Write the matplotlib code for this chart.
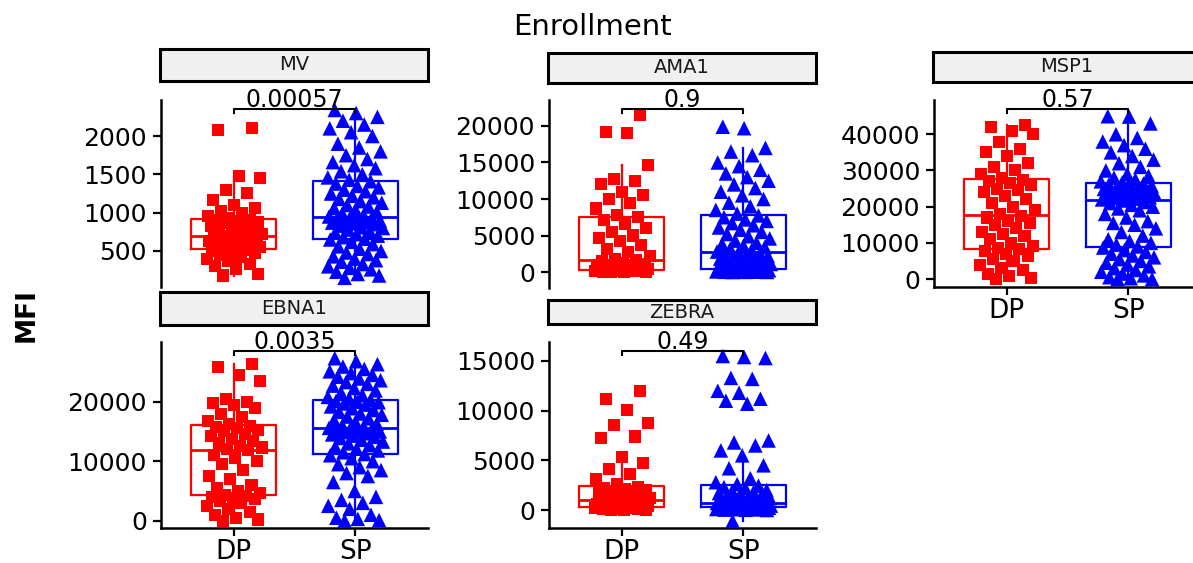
import matplotlib
matplotlib.use("Agg")
import matplotlib.pyplot as plt
from matplotlib.patches import Rectangle

plt.rcParams['font.family'] = ['DejaVu Sans']

# ---------------- data ----------------
groups = ["DP", "SP"]
panel_names = ["MV", "AMA1", "MSP1", "EBNA1", "ZEBRA"]
p_values = ["0.00057", "0.9", "0.57", "0.0035", "0.49"]
y_label = "MFI"
title = "Enrollment"

mv_dp = [180, 200, 260, 300, 330, 370, 400, 420, 450, 470, 490, 505, 515,
         530, 550, 560, 580, 600, 610, 630, 640, 650, 660, 670, 680, 690,
         700, 720, 740, 760, 780, 800, 820, 840, 860, 880, 890, 900, 910,
         930, 960, 990, 1020, 1060, 1100, 1160, 1260, 1300, 1450, 1480, 2080, 2100]
mv_sp = [150, 180, 200, 230, 260, 280, 300, 330, 360, 380, 400, 430, 460, 480, 500, 530, 560, 590, 620, 650,
         660, 680, 700, 720, 740, 760, 780, 800, 810, 830, 850, 860, 870, 880, 890, 900, 910, 920, 930, 945,
         950, 970, 990, 1010, 1040, 1060, 1080, 1100, 1130, 1150, 1180, 1200, 1220, 1250, 1280, 1300, 1330, 1350, 1380, 1410,
         1430, 1460, 1500, 1540, 1580, 1620, 1660, 1700, 1750, 1800, 1850, 1900, 2000, 2050, 2100, 2150, 2200, 2250, 2300, 2340]

ama1_dp = [0, 20, 40, 60, 80, 100, 130, 160, 190, 220, 250, 280, 300,
           350, 420, 500, 580, 660, 740, 820, 920, 1020, 1150, 1300, 1450, 1600,
           1800, 2200, 2700, 3200, 3700, 4200, 4700, 5000, 5500, 6000, 6600, 7100, 7500,
           7800, 8700, 9500, 10000, 10500, 11000, 12000, 12500, 12800, 14700, 19000, 19200, 21500]
ama1_sp = [0, 10, 20, 30, 40, 60, 80, 100, 120, 140, 160, 180, 200, 220, 240, 260, 280, 300, 320, 340,
           400, 500, 600, 700, 800, 900, 1000, 1100, 1200, 1350, 1500, 1650, 1800, 1950, 2100, 2200, 2300, 2400, 2500, 2650,
           2800, 3000, 3200, 3400, 3600, 3800, 4000, 4300, 4600, 4900, 5200, 5500, 5800, 6100, 6400, 6700, 7000, 7200, 7500, 7750,
           8000, 8500, 9000, 9500, 10000, 10500, 11000, 11500, 12000, 12500, 13000, 13500, 14000, 14500, 15000, 16000, 16500, 17000, 19700, 19900]

msp1_dp = [0, 300, 800, 1500, 2500, 3000, 4000, 5000, 5500, 6500, 7000, 7800, 8200,
           8500, 9000, 10000, 11000, 12000, 12500, 13000, 14000, 15000, 15500, 16000, 17000, 17500,
           18000, 19000, 20000, 21000, 22000, 23000, 24000, 24500, 25000, 26000, 26500, 27000, 27500,
           28000, 29000, 30000, 31000, 32000, 34000, 35000, 36000, 38000, 40000, 41000, 42000, 42500]
msp1_sp = [0, 0, 200, 500, 1000, 1500, 2000, 2500, 3000, 3500, 4000, 4500, 5000, 5500, 6000, 6500, 7000, 7500, 8000, 8700,
           9000, 9500, 10000, 10500, 11000, 12000, 13000, 14000, 15000, 15500, 16000, 17000, 18000, 19000, 19500, 20000, 20500, 21000, 21300, 21700,
           22000, 22200, 22400, 22600, 22800, 23000, 23200, 23400, 23600, 23800, 24000, 24300, 24600, 24900, 25200, 25500, 25800, 26000, 26200, 26400,
           26700, 27000, 27500, 28000, 28500, 29000, 30000, 31000, 32000, 33000, 34000, 35000, 36000, 37000, 38000, 39000, 40000, 43000, 44900, 45000]

ebna1_dp = [0, 200, 500, 900, 1500, 2000, 2500, 3000, 3300, 3600, 3800, 4000, 4150,
            4300, 4600, 5000, 5500, 6000, 7000, 7500, 8500, 9500, 10000, 10500, 11000, 11800,
            12000, 12300, 12600, 13000, 13400, 13800, 14200, 14600, 15000, 15300, 15600, 15800, 15950,
            16300, 16800, 17500, 18000, 19000, 19500, 19800, 20000, 20500, 23500, 24500, 25800, 26400]
ebna1_sp = [0, 100, 300, 500, 1000, 2000, 2500, 3000, 3500, 4000, 5000, 6500, 7500, 8000, 8500, 9000, 9500, 10000, 10500, 11000,
            11200, 11500, 11800, 12100, 12400, 12700, 13000, 13300, 13600, 13900, 14100, 14300, 14500, 14700, 14900, 15000, 15100, 15200, 15300, 15500,
            15600, 15800, 16000, 16300, 16600, 16900, 17200, 17500, 17800, 18000, 18300, 18600, 18900, 19200, 19500, 19700, 19900, 20000, 20100, 20250,
            20500, 20800, 21100, 21500, 21900, 22300, 22700, 23000, 23300, 23600, 23900, 24200, 24500, 24800, 25100, 25500, 25900, 26300, 26800, 27300]

zebra_dp = [0, 20, 50, 80, 110, 140, 170, 200, 230, 250, 270, 290, 310,
            340, 380, 420, 460, 510, 570, 630, 690, 750, 810, 870, 930, 990,
            1100, 1200, 1300, 1400, 1500, 1600, 1700, 1800, 1900, 2000, 2100, 2200, 2330,
            2600, 3100, 3600, 4100, 4700, 5300, 7200, 7400, 8600, 8800, 10100, 11200, 12000]
zebra_sp = [-1100, 0, 20, 40, 60, 80, 100, 120, 140, 160, 180, 200, 210, 220, 230, 240, 250, 260, 270, 280,
            300, 320, 340, 360, 380, 400, 420, 440, 460, 480, 500, 520, 540, 560, 580, 600, 620, 640, 650, 660,
            700, 750, 800, 850, 900, 950, 1000, 1100, 1200, 1300, 1400, 1500, 1600, 1700, 1800, 1900, 2000, 2200, 2300, 2450,
            2600, 2800, 3200, 4200, 4500, 5500, 6000, 6500, 6800, 7000, 10700, 11000, 11200, 11800, 12000, 13200, 13300, 15300, 15400, 15500]

mv_ticks = [500, 1000, 1500, 2000]
ama1_ticks = [0, 5000, 10000, 15000, 20000]
msp1_ticks = [0, 10000, 20000, 30000, 40000]
ebna1_ticks = [0, 10000, 20000]
zebra_ticks = [0, 5000, 10000, 15000]

# ---------------- layout (pixels) ----------------
W, H = 1193, 563
fig = plt.figure(figsize=(W / 100, H / 100), dpi=100)


def fbox(x0, y0, x1, y1):
    return [x0 / W, 1 - y1 / H, (x1 - x0) / W, (y1 - y0) / H]


panels = [
    dict(name=panel_names[0], dp=mv_dp, sp=mv_sp, p=p_values[0], ticks=mv_ticks,
         ylim=(30, 2470), ax=(161, 100, 428, 287), strip=(160, 49, 428, 81), xaxis=False),
    dict(name=panel_names[1], dp=ama1_dp, sp=ama1_sp, p=p_values[1], ticks=ama1_ticks,
         ylim=(-2190, 23560), ax=(549, 100, 816, 288), strip=(548, 53, 816, 83), xaxis=False),
    dict(name=panel_names[2], dp=msp1_dp, sp=msp1_sp, p=p_values[2], ticks=msp1_ticks,
         ylim=(-2210, 49480), ax=(934, 100, 1201, 287), strip=(933, 52, 1201, 82), xaxis=True),
    dict(name=panel_names[3], dp=ebna1_dp, sp=ebna1_sp, p=p_values[3], ticks=ebna1_ticks,
         ylim=(-1230, 30030), ax=(161, 342, 428, 528), strip=(160, 292, 428, 325), xaxis=True),
    dict(name=panel_names[4], dp=zebra_dp, sp=zebra_sp, p=p_values[4], ticks=zebra_ticks,
         ylim=(-1810, 16910), ax=(549, 342, 816, 528), strip=(548, 300, 816, 324), xaxis=True),
]

colors = ["#FF0000", "#0000FF"]
markers = ["s", "^"]
msizes = [75, 110]


def jitter(n):
    return [((i * 0.6180339887 + 0.31) % 1.0 - 0.5) * 0.46 for i in range(n)]


for p in panels:
    ax = fig.add_axes(fbox(*p["ax"]))
    for gi, vals in enumerate([p["dp"], p["sp"]]):
        pos = gi + 1
        c = colors[gi]
        ax.boxplot([vals], positions=[pos], widths=0.7, showfliers=False,
                   boxprops=dict(color=c, linewidth=1.6),
                   medianprops=dict(color=c, linewidth=2.0),
                   whiskerprops=dict(color=c, linewidth=1.6),
                   capprops=dict(linewidth=0), zorder=1)
        js = jitter(len(vals))
        ax.scatter([pos + j for j in js], vals, marker=markers[gi], s=msizes[gi],
                   color=c, edgecolors='none', zorder=3, clip_on=False)
    ax.set_xlim(0.4, 2.6)
    ax.set_ylim(*p["ylim"])
    ax.set_yticks(p["ticks"])
    ax.set_yticklabels([str(t) for t in p["ticks"]])
    for s in ["top", "right"]:
        ax.spines[s].set_visible(False)
    ax.spines["left"].set_linewidth(1.8)
    ax.spines["bottom"].set_linewidth(1.8)
    ax.tick_params(axis="y", labelsize=18, length=6, width=1.6, pad=4, colors="black")
    ax.set_xticks([1, 2])
    if p["xaxis"]:
        ax.set_xticklabels(groups)
        ax.tick_params(axis="x", labelsize=19, length=6, width=1.6, pad=2)
    else:
        ax.spines["bottom"].set_visible(False)
        ax.tick_params(axis="x", length=0, labelbottom=False)
    ax.patch.set_alpha(0)
    # significance bracket
    tr = ax.get_xaxis_transform()
    ax.plot([1, 1, 2, 2], [0.93, 0.952, 0.952, 0.93], color="black", lw=1.5,
            transform=tr, clip_on=False, zorder=4)
    ax.text(1.5, 0.962, p["p"], transform=tr, ha="center", va="baseline",
            fontsize=17, color="black", clip_on=False, zorder=5)
    # strip
    x0, y0, x1, y1 = p["strip"]
    b = fbox(x0, y0, x1, y1)
    fig.add_artist(Rectangle((b[0], b[1]), b[2], b[3], transform=fig.transFigure,
                             facecolor="#F0F0F0", edgecolor="black", linewidth=2.2))
    fig.text(b[0] + b[2] / 2, b[1] + b[3] / 2, p["name"], ha="center", va="center",
             fontsize=14, color="#1A1A1A")

fig.text(593 / W, 1 - 27 / H, title, ha="center", va="center", fontsize=21, color="black")
fig.text(27 / W, 1 - 315 / H, y_label, ha="center", va="center", rotation=90,
         fontsize=19, fontweight="bold", color="black")

fig.savefig("out.png", dpi=100)
